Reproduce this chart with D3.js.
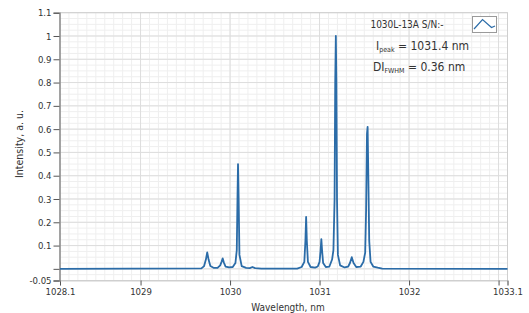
<!DOCTYPE html>
<html>
<head>
<meta charset="utf-8">
<script src="https://cdn.jsdelivr.net/npm/d3@7"></script>
<style>
  body { margin: 0; background: #fff; }
  svg text { font-family: "Liberation Sans Narrow", "DejaVu Sans Condensed", sans-serif; fill: #333; }
</style>
</head>
<body>
<div id="chart"></div>
<script>
// spectrum
const wavelength = [
  1028.1, 1029.68, 1029.71, 1029.73, 1029.745, 1029.76, 1029.78, 1029.82,
  1029.86, 1029.89, 1029.905, 1029.918, 1029.93, 1029.95, 1029.99,
  1030.03, 1030.06, 1030.075, 1030.083, 1030.089, 1030.096, 1030.105, 1030.13, 1030.18, 1030.22, 1030.25, 1030.28, 1030.35,
  1030.75, 1030.80, 1030.83, 1030.842, 1030.85, 1030.858, 1030.87, 1030.90, 1030.95,
  1030.98, 1031.0, 1031.012, 1031.02, 1031.028, 1031.04, 1031.07,
  1031.11, 1031.14, 1031.155, 1031.168, 1031.175, 1031.182, 1031.188, 1031.195, 1031.205, 1031.23, 1031.28, 1031.32,
  1031.34, 1031.36, 1031.38, 1031.41, 1031.46,
  1031.49, 1031.51, 1031.52, 1031.53, 1031.537, 1031.545, 1031.555, 1031.57, 1031.6, 1031.65, 1031.7, 1033.1
];
const intensity = [
  0, 0.002, 0.012, 0.04, 0.071, 0.04, 0.012, 0.004,
  0.004, 0.015, 0.03, 0.045, 0.028, 0.01, 0.006,
  0.008, 0.025, 0.08, 0.3, 0.45, 0.3, 0.06, 0.012, 0.004, 0.003, 0.008, 0.003, 0.001,
  0.001, 0.008, 0.03, 0.12, 0.223, 0.12, 0.03, 0.008, 0.005,
  0.01, 0.03, 0.08, 0.128, 0.08, 0.025, 0.008,
  0.01, 0.04, 0.08, 0.3, 0.8, 1.0, 0.8, 0.3, 0.06, 0.015, 0.006, 0.01,
  0.025, 0.05, 0.025, 0.008, 0.01,
  0.03, 0.07, 0.25, 0.58, 0.61, 0.4, 0.12, 0.03, 0.01, 0.005, 0.001, 0
];

const xTicks = [1028.1, 1029, 1030, 1031, 1032, 1033, 1033.1];
const xTickLabels = ['1028.1', '1029', '1030', '1031', '1032', '', '1033.1'];
const yTicks = [-0.05, 0, 0.1, 0.2, 0.3, 0.4, 0.5, 0.6, 0.7, 0.8, 0.9, 1, 1.1];
const yTickLabels = ['-0.05', '', '0.1', '0.2', '0.3', '0.4', '0.5', '0.6', '0.7', '0.8', '0.9', '1', '1.1'];

const legendName = '1030L-13A S/N:-';

const W = 529, H = 313;
const plot = { left: 60, right: 507.5, top: 12.7, bottom: 280.5 };

const svg = d3.select('#chart').append('svg')
  .attr('width', W)
  .attr('height', H);

const x = d3.scaleLinear().domain([1028.1, 1033.1]).range([plot.left, plot.right]);
const y = d3.scaleLinear().domain([-0.05, 1.1]).range([plot.bottom, plot.top]);

// grid: minor then major
const minorX = d3.range(1028.2, 1033.1, 0.1).map(v => +v.toFixed(1));
const minorY = d3.range(-0.025, 1.1, 0.025).map(v => +v.toFixed(3));

svg.append('g').selectAll('line').data(minorX).join('line')
  .attr('x1', d => x(d)).attr('x2', d => x(d))
  .attr('y1', plot.top).attr('y2', plot.bottom)
  .attr('stroke', '#efefef');
svg.append('g').selectAll('line').data(minorY).join('line')
  .attr('x1', plot.left).attr('x2', plot.right)
  .attr('y1', d => y(d)).attr('y2', d => y(d))
  .attr('stroke', '#efefef');
svg.append('g').selectAll('line').data([1029, 1030, 1031, 1032, 1033]).join('line')
  .attr('x1', d => x(d)).attr('x2', d => x(d))
  .attr('y1', plot.top).attr('y2', plot.bottom)
  .attr('stroke', '#dddddd');
svg.append('g').selectAll('line').data(yTicks.slice(1)).join('line')
  .attr('x1', plot.left).attr('x2', plot.right)
  .attr('y1', d => y(d)).attr('y2', d => y(d))
  .attr('stroke', '#dddddd');

// frame
svg.append('rect')
  .attr('x', plot.left).attr('y', plot.top)
  .attr('width', plot.right - plot.left).attr('height', plot.bottom - plot.top)
  .attr('fill', 'none').attr('stroke', '#cfcfcf');

// axes
const xAxis = d3.axisBottom(x).tickValues(xTicks)
  .tickFormat((d, i) => xTickLabels[i]).tickSize(5).tickPadding(3);
const yAxis = d3.axisLeft(y).tickValues(yTicks)
  .tickFormat((d, i) => yTickLabels[i]).tickSize(6).tickPadding(2);

const gx = svg.append('g').attr('transform', `translate(0, ${plot.bottom})`).call(xAxis);
gx.select('.domain').attr('stroke', '#cfcfcf');
const gy = svg.append('g').attr('transform', `translate(${plot.left - 0.5}, 0)`).call(yAxis);
gy.select('.domain').attr('stroke', '#8c8c8c').attr('stroke-width', 1.5);

[gx, gy].forEach(g => {
  g.selectAll('.tick line').attr('stroke', '#555');
  g.selectAll('.tick text').style('font-size', '9.5px').attr('fill', '#333');
});

// spectrum
const points = wavelength.map((w, i) => [w, intensity[i]]);
svg.append('path')
  .datum(points)
  .attr('fill', 'none')
  .attr('stroke', '#2b6ca8')
  .attr('stroke-width', 1.8)
  .attr('stroke-linejoin', 'round')
  .attr('d', d3.line().x(d => x(d[0])).y(d => y(d[1])));

// axis titles
svg.append('text')
  .text('Wavelength, nm')
  .attr('x', 288)
  .attr('y', 311)
  .attr('text-anchor', 'middle')
  .style('font-size', '10px');

svg.append('text')
  .text('Intensity, a. u.')
  .attr('transform', 'translate(23, 144) rotate(-90)')
  .attr('text-anchor', 'middle')
  .style('font-size', '10.5px');

// legend
svg.append('text')
  .text(legendName)
  .attr('x', 407).attr('y', 28)
  .attr('text-anchor', 'middle')
  .style('font-size', '10px');

const icon = svg.append('g');
icon.append('rect')
  .attr('x', 472.5).attr('y', 16.5).attr('width', 24).attr('height', 16)
  .attr('fill', '#fff').attr('stroke', '#9a9a9a');
icon.append('path')
  .attr('d', 'M474,29 L482.5,19.5 L491.5,27.5 L495,26')
  .attr('fill', 'none').attr('stroke', '#2b6ca8').attr('stroke-width', 1.2);

const l1 = svg.append('text').attr('x', 376).attr('y', 50).style('font-size', '12px');
l1.append('tspan').text('I');
l1.append('tspan').text('peak').style('font-size', '7px').attr('dy', 2);
l1.append('tspan').text(' = 1031.4 nm').attr('dy', -2);

const l2 = svg.append('text').attr('x', 373).attr('y', 71).style('font-size', '12px');
l2.append('tspan').text('DI');
l2.append('tspan').text('FWHM').style('font-size', '7px').attr('dy', 2);
l2.append('tspan').text(' = 0.36 nm').attr('dy', -2);
</script>
</body>
</html>
